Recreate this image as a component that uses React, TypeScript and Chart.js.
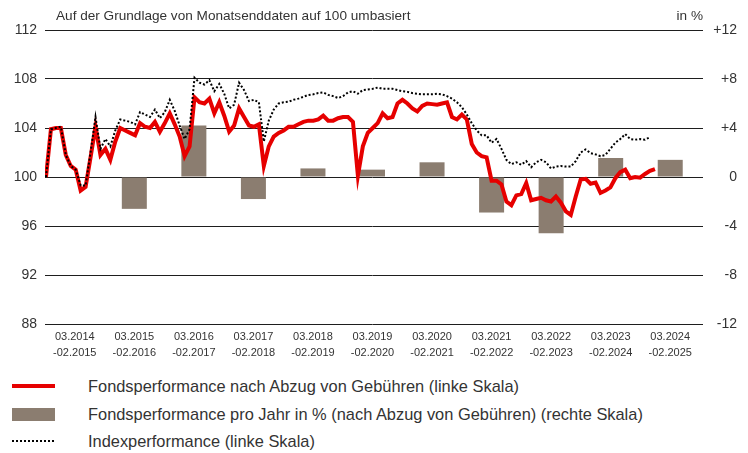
import React, { useEffect, useRef } from 'react';
import { Chart, registerables } from 'chart.js';

Chart.register(...registerables);

// Category labels (annual periods)
const periodLabels: string[][] = [
  ['03.2014', '-02.2015'],
  ['03.2015', '-02.2016'],
  ['03.2016', '-02.2017'],
  ['03.2017', '-02.2018'],
  ['03.2018', '-02.2019'],
  ['03.2019', '-02.2020'],
  ['03.2020', '-02.2021'],
  ['03.2021', '-02.2022'],
  ['03.2022', '-02.2023'],
  ['03.2023', '-02.2024'],
  ['03.2024', '-02.2025'],
];

// Annual fund performance in % (right scale)
const annualPerformance: (number | null)[] = [null, -2.6, 4.2, -1.8, 0.7, 0.6, 1.2, -2.9, -4.6, 1.55, 1.4];

// Monthly fund performance, rebased to 100 (left scale)
const fundMonthly: number[] = [
  100, 103.9, 104.0, 104.0, 101.8, 100.9, 100.6, 98.9, 99.2, 101.6, 104.1, 101.8,
  102.3, 101.4, 102.9, 104.0, 103.8, 103.6, 103.4, 104.4, 104.1, 104.0, 104.5, 103.7,
  104.4, 105.2, 104.3, 103.3, 101.7, 102.5, 106.5, 106.1, 106.0, 106.4, 105.2, 106.1,
  105.0, 103.7, 104.2, 105.6, 104.9, 104.2, 104.1, 104.3, 100.9, 102.5, 103.3, 103.6,
  103.8, 104.1, 104.1, 104.3, 104.5, 104.6, 104.6, 104.7, 105.0, 104.6, 104.6, 104.8,
  104.9, 104.9, 104.5, 100.1, 102.5, 103.6, 104.0, 104.4, 105.2, 104.8, 104.9, 106.0,
  106.3, 106.0, 105.6, 105.35, 105.8, 106.0, 105.95, 105.9, 106.0, 106.1, 104.9, 104.7,
  105.1, 104.7, 102.7, 102.0, 101.7, 101.6, 99.7, 99.7, 99.4, 98.0, 97.7, 98.5,
  98.6, 99.5, 98.1, 98.2, 98.3, 98.1, 98.0, 98.4, 97.9, 97.2, 96.9, 98.4,
  99.8, 99.85, 99.45, 99.55, 98.7, 98.9, 99.15, 99.9, 100.4, 100.6, 99.9, 100.0,
  99.95, 100.25, 100.5, 100.65,
];

// Monthly index performance, rebased to 100 (left scale)
const indexMonthly: number[] = [
  100, 103.9, 104.0, 104.1, 101.8, 100.9, 100.6, 99.3, 99.3, 102.0, 104.9, 102.3,
  103.1, 102.5, 103.8, 104.7, 104.6, 104.5, 104.3, 105.3, 105.1, 104.9, 105.5, 104.8,
  105.3, 106.3, 105.4, 104.2, 103.1, 103.9, 108.1, 107.7, 107.55, 107.9, 107.0, 107.6,
  106.8, 105.6, 105.9, 107.7, 107.1, 106.2, 106.3, 106.1, 102.9, 104.6, 105.5, 106.0,
  106.1, 106.15, 106.3, 106.4, 106.55, 106.7, 106.75, 106.85, 106.9, 106.7, 106.6, 106.45,
  106.6, 106.9, 107.0, 106.8, 107.1, 107.15, 107.2, 107.3, 107.2, 107.2, 107.2, 107.1,
  107.0, 106.95, 106.85, 106.8, 106.75, 106.75, 106.75, 106.8, 106.75, 106.6, 106.4, 106.1,
  105.7, 105.1, 104.4, 103.8, 103.4, 103.4, 102.8, 103.1, 102.3, 101.4, 101.05, 101.2,
  101.0, 101.3, 100.8, 101.2, 101.4, 101.2, 100.7, 100.85, 100.9, 100.85, 100.85, 101.3,
  102.0, 102.25, 101.95, 101.85, 101.7, 101.8, 102.3, 102.8, 103.1, 103.5, 103.1, 103.05,
  103.1, 103.05, 103.25,
];

const leftMin = 88;
const leftMax = 112;
const rightMin = -12;
const rightMax = 12;
const tickStep = 4;

const titleText = 'Auf der Grundlage von Monatsenddaten auf 100 umbasiert';
const unitText = 'in %';
const legendFund = 'Fondsperformance nach Abzug von Gebühren (linke Skala)';
const legendAnnual = 'Fondsperformance pro Jahr in % (nach Abzug von Gebühren) (rechte Skala)';
const legendIndex = 'Indexperformance (linke Skala)';

const RED = '#e60000';
const BROWN = '#8b7d70';
const GRID = '#1e1e1e';
const TEXT = '#333333';
const FONT = '"Liberation Sans", Arial, sans-serif';

export default function App() {
  const canvasRef = useRef<HTMLCanvasElement | null>(null);

  useEffect(() => {
    document.body.style.margin = '0';
    const canvas = canvasRef.current;
    if (!canvas) return;
    const chart = new Chart(canvas, {
      type: 'bar',
      data: {
        labels: periodLabels,
        datasets: [
          {
            type: 'line',
            label: legendIndex,
            data: indexMonthly.map((v, i) => ({ x: i, y: v })),
            xAxisID: 'xm',
            yAxisID: 'y',
            borderColor: '#000000',
            borderWidth: 2,
            borderDash: [2, 2],
            pointRadius: 0,
            tension: 0,
            order: 0,
          } as any,
          {
            type: 'line',
            label: legendFund,
            data: fundMonthly.map((v, i) => ({ x: i, y: v })),
            xAxisID: 'xm',
            yAxisID: 'y',
            borderColor: RED,
            borderWidth: 4,
            pointRadius: 0,
            tension: 0,
            order: 1,
          } as any,
          {
            type: 'bar',
            label: legendAnnual,
            data: annualPerformance,
            xAxisID: 'x',
            yAxisID: 'y2',
            backgroundColor: BROWN,
            barPercentage: 0.42,
            categoryPercentage: 1,
            grouped: false,
            order: 2,
          } as any,
        ],
      },
      options: {
        animation: false,
        responsive: false,
        maintainAspectRatio: false,
        layout: { padding: { top: 30, right: 11, left: 0, bottom: 0 } },
        plugins: { legend: { display: false }, tooltip: { enabled: false }, title: { display: false } },
        scales: {
          x: {
            type: 'category',
            position: 'bottom',
            offset: true,
            grid: { display: false, drawTicks: false },
            border: { display: false },
            ticks: {
              autoSkip: false,
              maxRotation: 0,
              padding: 5,
              color: TEXT,
              font: { family: FONT, size: 11, lineHeight: 1.45 },
            },
            afterFit: (s: any) => { s.height = 36; },
          },
          xm: {
            type: 'linear',
            display: false,
            offset: false,
            min: -0.2,
            max: 132.1,
          },
          y: {
            position: 'left',
            min: leftMin,
            max: leftMax,
            ticks: { stepSize: tickStep, padding: 8, color: TEXT, font: { family: FONT, size: 14 } },
            grid: { color: GRID, lineWidth: 1, drawTicks: false },
            border: { display: false },
            afterFit: (s: any) => { s.width = 45; },
          },
          y2: {
            position: 'right',
            min: rightMin,
            max: rightMax,
            ticks: {
              stepSize: tickStep,
              crossAlign: 'far',
              padding: 4,
              color: TEXT,
              font: { family: FONT, size: 14 },
              callback: (v: any) => (v > 0 ? '+' + v : String(v)),
            },
            grid: { drawOnChartArea: false, drawTicks: true, tickLength: 3, color: GRID, lineWidth: 1 },
            border: { display: false },
            afterFit: (s: any) => { s.width = 37; },
          },
        },
      } as any,
    });
    return () => chart.destroy();
  }, []);

  const txt: React.CSSProperties = { position: 'absolute', fontFamily: FONT, color: TEXT, whiteSpace: 'nowrap' };

  return (
    <div style={{ position: 'relative', width: 748, height: 453, background: '#fff', overflow: 'hidden' }}>
      <canvas ref={canvasRef} width={748} height={360} style={{ position: 'absolute', left: 0, top: 0, width: 748, height: 360 }} />
      <div style={{ ...txt, left: 56, top: 8, fontSize: 13.6, lineHeight: '16px' }}>{titleText}</div>
      <div style={{ ...txt, right: 45, top: 8, fontSize: 13.6, lineHeight: '16px' }}>{unitText}</div>

      <div style={{ position: 'absolute', left: 12, top: 384, width: 43, height: 4, background: RED }} />
      <div style={{ ...txt, left: 88, top: 376, fontSize: 16.4, lineHeight: '20px' }}>{legendFund}</div>

      <div style={{ position: 'absolute', left: 12, top: 408, width: 43, height: 13, background: BROWN }} />
      <div style={{ ...txt, left: 88, top: 404, fontSize: 16.4, lineHeight: '20px' }}>{legendAnnual}</div>

      <div style={{ position: 'absolute', left: 12, top: 440, width: 42, height: 2, backgroundImage: 'repeating-linear-gradient(to right, #000 0 2px, transparent 2px 4px)' }} />
      <div style={{ ...txt, left: 88, top: 431, fontSize: 16.4, lineHeight: '20px' }}>{legendIndex}</div>
    </div>
  );
}
